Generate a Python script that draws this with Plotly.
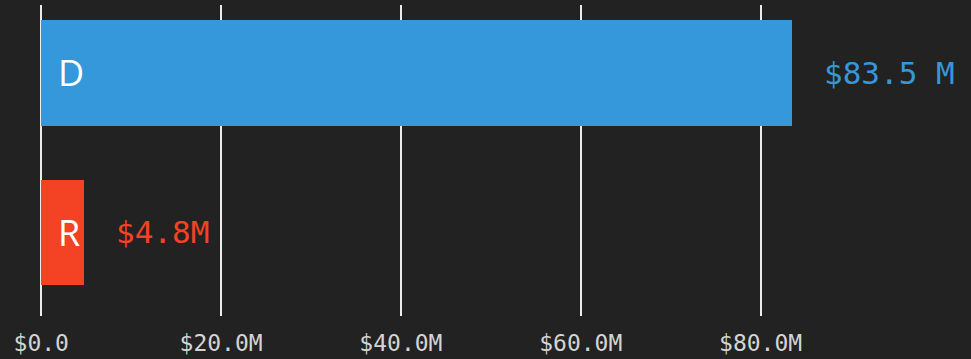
import plotly.graph_objects as go

# Party totals (millions of dollars)
parties = ["D", "R"]
amounts = [83.5, 4.8]
amount_labels = ["$83.5 M", "$4.8M"]
bar_colors = ["#3498db", "#f44324"]

tick_values = [0, 20, 40, 60, 80]
tick_labels = ["$0.0", "$20.0M", "$40.0M", "$60.0M", "$80.0M"]

# R sits at position 0 (bottom), D at position 1 (top)
positions = {"D": 1, "R": 0}
ypos = [positions[p] for p in parties]

fig = go.Figure()
fig.add_trace(go.Bar(
    x=amounts,
    y=ypos,
    orientation="h",
    marker=dict(color=bar_colors, line=dict(width=0)),
    width=0.66,
    hoverinfo="skip",
))

annotations = []
for p, y, v, lab, c in zip(parties, ypos, amounts, amount_labels, bar_colors):
    # party letter inside the bar, near its base
    annotations.append(dict(
        x=0, y=y, xref="x", yref="y", text=p, showarrow=False,
        xanchor="left", yanchor="middle", xshift=15,
        font=dict(family="Open Sans", size=36, color="#ffffff"),
    ))
    # amount label just past the bar end
    annotations.append(dict(
        x=v, y=y, xref="x", yref="y", text=lab, showarrow=False,
        xanchor="left", yanchor="middle", xshift=30,
        font=dict(family="DejaVu Sans Mono", size=31, color=c),
    ))

fig.update_layout(
    width=971, height=359,
    margin=dict(l=39, r=0, t=5, b=43),
    paper_bgcolor="#222222",
    plot_bgcolor="#222222",
    showlegend=False,
    bargap=0,
    annotations=annotations,
    xaxis=dict(
        range=[-0.25, 103.4],
        tickmode="array",
        tickvals=tick_values,
        ticktext=tick_labels,
        showgrid=True,
        gridcolor="#ececec",
        gridwidth=2,
        zeroline=False,
        showline=False,
        ticks="",
        ticklabelstandoff=11,
        tickfont=dict(family="DejaVu Sans Mono", size=23, color="#d4d4d4"),
    ),
    yaxis=dict(
        range=[-0.5235, 1.426],
        showgrid=False,
        zeroline=False,
        showline=False,
        showticklabels=False,
        ticks="",
    ),
)

fig.write_html("out.html")
